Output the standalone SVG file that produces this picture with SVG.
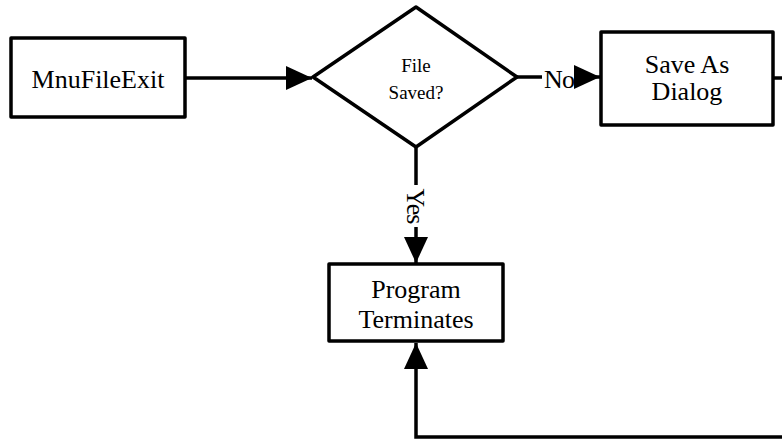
<svg xmlns="http://www.w3.org/2000/svg" width="782" height="439" viewBox="0 0 782 439">
  <style>
    .box { fill: #ffffff; stroke: #000000; stroke-width: 3.5; stroke-linejoin: round; }
    .edge { fill: none; stroke: #000000; stroke-width: 3.5; }
    .lbl { font-family: "Liberation Serif", "Times New Roman", serif; fill: #000000; text-anchor: middle; font-size: 26px; }
    .small { font-size: 19px; }
  </style>
  <defs>
    <marker id="head" viewBox="0 0 26 24" refX="26" refY="12" markerWidth="26" markerHeight="24" markerUnits="userSpaceOnUse" orient="auto">
      <path d="M0,0 L26,12 L0,24 Z" fill="#000000"/>
    </marker>
  </defs>

  <rect width="782" height="439" fill="#ffffff"/>

  <g id="connectors">
    <!-- MnuFileExit to decision -->
    <path class="edge" d="M185,78 L312,78" marker-end="url(#head)"/>
    <!-- No branch -->
    <path class="edge" d="M517,77 L542,77"/>
    <path class="edge" d="M576,77 L600,77" marker-end="url(#head)"/>
    <text class="lbl" x="559" y="88" letter-spacing="-1">No</text>
    <!-- Yes branch -->
    <path class="edge" d="M416,147 L416,185"/>
    <path class="edge" d="M416,227 L416,263" marker-end="url(#head)"/>
    <text class="lbl" letter-spacing="-1" transform="translate(407,206) rotate(90)">Yes</text>
    <!-- Save As Dialog back to Program Terminates -->
    <path class="edge" d="M773,78 L782,78"/>
    <path class="edge" d="M782,437 L416,437 L416,343" marker-end="url(#head)"/>
  </g>

  <g id="node-mnufileexit">
    <rect class="box" x="11" y="38" width="174" height="79"/>
    <text class="lbl" x="98" y="88" font-size="25.5">MnuFileExit</text>
  </g>

  <g id="node-file-saved">
    <polygon class="box" points="416,7 517,77 416,147 313,77"/>
    <text class="lbl small" x="416" y="72">File</text>
    <text class="lbl small" x="416" y="99">Saved?</text>
  </g>

  <g id="node-save-as">
    <rect class="box" x="601" y="32" width="172" height="93"/>
    <text class="lbl" x="687" y="73">Save As</text>
    <text class="lbl" x="687" y="100">Dialog</text>
  </g>

  <g id="node-program-terminates">
    <rect class="box" x="329" y="264" width="174" height="77"/>
    <text class="lbl" x="416" y="298">Program</text>
    <text class="lbl" x="416" y="328">Terminates</text>
  </g>
</svg>
